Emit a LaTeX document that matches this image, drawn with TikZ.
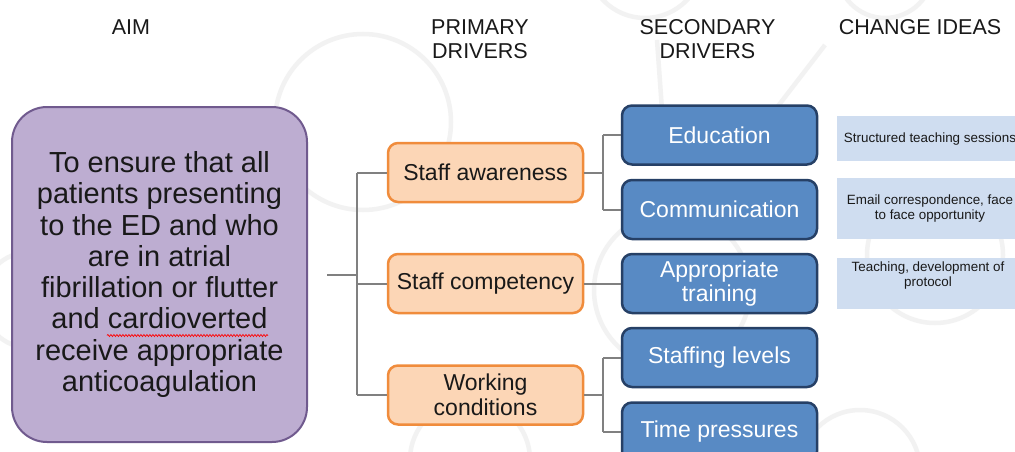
\documentclass[tikz,border=0pt]{standalone}
\usepackage{fontspec}
\setmainfont{Liberation Sans}
\usetikzlibrary{decorations.pathmorphing}
\definecolor{aimfill}{RGB}{189,173,209}
\definecolor{aimdraw}{RGB}{112,90,142}
\definecolor{orfill}{RGB}{252,214,182}
\definecolor{ordraw}{RGB}{240,140,60}
\definecolor{blfill}{RGB}{88,138,196}
\definecolor{bldraw}{RGB}{38,64,102}
\definecolor{cifill}{RGB}{207,221,240}
\definecolor{txt}{RGB}{25,25,25}
\definecolor{connc}{RGB}{128,128,128}
\definecolor{wmc}{RGB}{242,242,242}
\tikzset{
  heading/.style={text=txt, align=center, font=\fontsize{21.5}{24}\selectfont, inner sep=0pt},
  aimbox/.style={draw=aimdraw, fill=aimfill, line width=2pt, rounded corners=35pt,
    minimum width=295pt, minimum height=335pt, align=center, text=txt,
    font=\fontsize{29}{31.3}\selectfont},
  pribox/.style={draw=ordraw, fill=orfill, line width=2.5pt, rounded corners=10pt,
    minimum width=195pt, minimum height=59pt, align=center, text=txt,
    font=\fontsize{23}{25}\selectfont},
  secbox/.style={draw=bldraw, fill=blfill, line width=2.5pt, rounded corners=10pt,
    minimum width=195pt, minimum height=59pt, align=center, text=white,
    font=\fontsize{23}{24}\selectfont},
  cibox/.style={fill=cifill, minimum width=186pt, inner sep=0pt},
  citext/.style={align=center, text=txt, font=\fontsize{13.4}{15}\selectfont, inner sep=0pt},
  conn/.style={draw=connc, line width=2pt},
  wm/.style={draw=wmc, line width=4.5pt}
}
\begin{document}
\begin{tikzpicture}[x=1pt,y=-1pt]
\useasboundingbox (0,0) rectangle (1015,452);
\clip (0,0) rectangle (1015,452);
\fill[white] (0,0) rectangle (1015,452);
% faint watermark circles
\draw[wm] (363,122) circle (88);
\draw[wm] (935,255) circle (68);
\draw[wm] (645,-40) circle (58);
\draw[wm] (885,-30) circle (48);
\draw[wm] (672,290) circle (78);
\draw[wm] (30,300) circle (48);
\draw[wm] (657,40) -- (662,110);
\draw[wm] (825,45) -- (775,110);
\draw[wm] (470,460) circle (60);
\draw[wm] (860,470) circle (60);

% headings
\node[heading] (hAim) at (131,27.3) {AIM};
\node[heading] (hPri) at (480,39) {PRIMARY\\DRIVERS};
\node[heading] (hSec) at (707.5,39) {SECONDARY\\DRIVERS};
\node[heading] (hCi) at (920,27.3) {CHANGE IDEAS};

% aim
\node[aimbox] (aim) at (159.5,274.5) {To ensure that all\\patients presenting\\to the ED and who\\are in atrial\\fibrillation or flutter\\and cardioverted\\receive appropriate\\anticoagulation};
\draw[red, line width=0.7pt, decorate, decoration={snake, amplitude=1pt, segment length=3pt}]
  (107,335.5) -- (268,335.5);

% primary drivers
\node[pribox] (sa) at (485.5,172.5) {Staff awareness};
\node[pribox] (sc) at (485.5,283.5) {Staff competency};
\node[pribox] (wc) at (485.5,395) {Working\\conditions};

% secondary drivers
\node[secbox] (ed) at (719.5,135) {Education};
\node[secbox] (com) at (719.5,209.5) {Communication};
\node[secbox] (at) at (719.5,283.5) {Appropriate\\training};
\node[secbox] (sl) at (719.5,357.5) {Staffing levels};
\node[secbox] (tp) at (719.5,432) {Time pressures};

% change ideas
\node[cibox, minimum height=45pt] (ci1) at (930,138.5) {};
\node[citext] (ci1t) at (930,139) {Structured teaching sessions};
\node[cibox, minimum height=61pt] (ci2) at (930,208.5) {};
\node[citext] (ci2t) at (930,209) {Email correspondence, face\\to face opportunity};
\node[cibox, minimum height=51pt] (ci3) at (930,283.5) {};
\node[citext, anchor=north] (ci3t) at (928,262) {Teaching, development of\\protocol};

% connectors aim -> primary
\coordinate (aimstub) at (327,274.5);
\coordinate (ptrunk) at (357,274.5);
\draw[conn] (aimstub) -- (ptrunk);
\draw[conn] (ptrunk |- sa.west) -- (ptrunk |- wc.west);
\draw[conn] (ptrunk |- sa.west) -- (sa.west);
\draw[conn] (ptrunk |- sc.west) -- (sc.west);
\draw[conn] (ptrunk |- wc.west) -- (wc.west);

% connectors primary -> secondary
\coordinate (strunk) at (603,0);
\draw[conn] (sa.east) -- (strunk |- sa.east);
\draw[conn] (strunk |- ed.west) -- (strunk |- com.west);
\draw[conn] (strunk |- ed.west) -- (ed.west);
\draw[conn] (strunk |- com.west) -- (com.west);
\draw[conn] (sc.east) -- (at.west);
\draw[conn] (wc.east) -- (strunk |- wc.east);
\draw[conn] (strunk |- sl.west) -- (strunk |- tp.west);
\draw[conn] (strunk |- sl.west) -- (sl.west);
\draw[conn] (strunk |- tp.west) -- (tp.west);
\end{tikzpicture}
\end{document}
